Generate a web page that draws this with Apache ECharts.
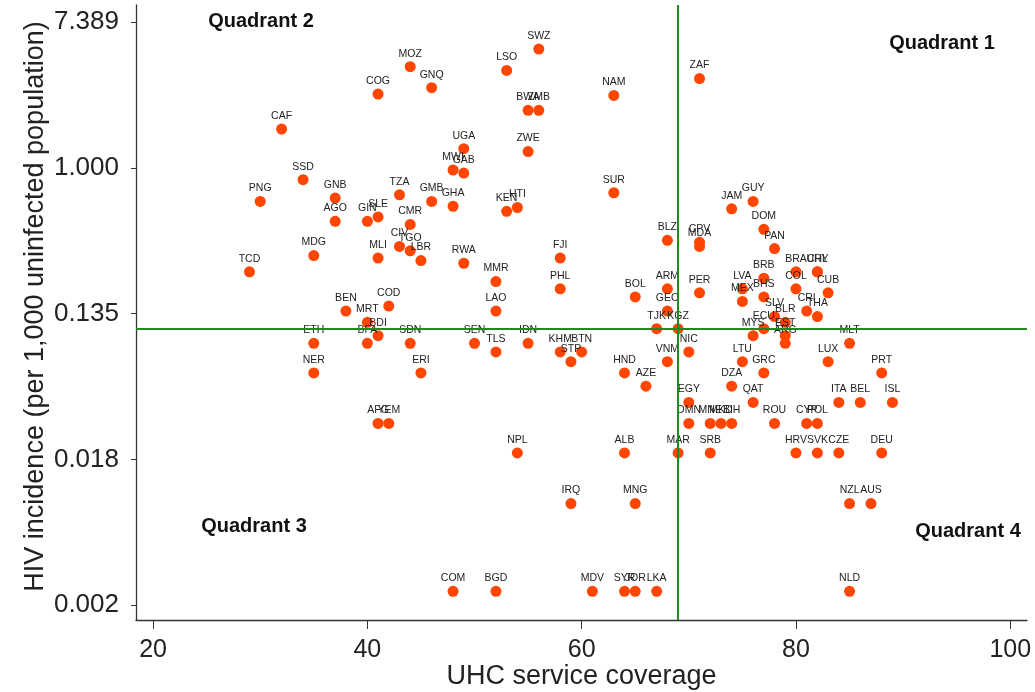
<!DOCTYPE html>
<html><head><meta charset="utf-8">
<script src="https://cdn.jsdelivr.net/npm/echarts@6/dist/echarts.min.js"></script>
<style>html,body{margin:0;padding:0;background:#fff}#c{width:1035px;height:692px}</style>
</head><body><div id="c"></div>
<script>
// ---- data ----
const countries = ['MOZ','COG','GNQ','CAF','SSD','PNG','GNB','TZA','GMB','AGO','GIN','SLE','CMR','MDG','MLI','CIV','TGO','LBR','TCD','COD','BEN','MRT','BDI','ETH','BFA','SDN','NER','ERI','AFG','YEM',
'SWZ','LSO','NAM','BWA','ZMB','ZAF','UGA','ZWE','MWI','GAB','GHA','KEN','HTI','SUR','JAM','GUY','BLZ','CPV','MDA','RWA','FJI','MMR','PHL','BOL','ARM','PER','LAO','GEO','TJK','KGZ',
'SEN','TLS','IDN','KHM','BTN','STP','NIC','VNM','HND','AZE','EGY','DZA','DOM','PAN','BRA','CHL','URY','BRB','LVA','MEX','BHS','COL','CUB','SLV','BLR','CRI','THA','ECU','MYS','EST','ARG','MLT',
'LTU','GRC','LUX','PRT','QAT','ITA','BEL','ISL','OMN','MNE','MKD','BIH','ROU','CYP','POL','NPL','ALB','MAR','SRB','HRV','SVK','CZE','DEU','IRQ','MNG','NZL','AUS','COM','BGD','MDV','SYR','JOR','LKA','NLD'];
const uhcCoverage = [44,41,46,32,34,30,37,43,46,37,40,41,44,35,41,43,44,45,29,42,38,40,41,35,40,44,35,45,41,42,
56,53,63,55,56,71,49,55,48,49,48,53,54,63,74,76,68,71,71,49,58,52,58,65,68,71,52,68,67,69,
50,52,55,58,60,59,70,68,64,66,70,74,77,78,80,82,82,77,75,75,77,80,83,78,79,81,82,77,76,79,79,85,
75,77,83,88,76,84,86,89,70,72,73,74,78,81,82,54,64,69,72,80,82,84,88,59,65,85,87,48,52,61,64,65,67,85];
const hivIncidence = [4.0,2.75,3.0,1.7,0.85,0.63,0.66,0.69,0.63,0.48,0.48,0.51,0.46,0.30,0.29,0.34,0.32,0.28,0.24,0.15,0.14,0.12,0.10,0.09,0.09,0.09,0.06,0.06,0.03,0.03,
5.1,3.8,2.7,2.2,2.2,3.4,1.3,1.25,0.97,0.93,0.59,0.55,0.58,0.71,0.57,0.63,0.37,0.36,0.34,0.27,0.29,0.21,0.19,0.17,0.19,0.18,0.14,0.14,0.11,0.11,
0.09,0.08,0.09,0.08,0.08,0.07,0.08,0.07,0.06,0.05,0.04,0.05,0.43,0.33,0.24,0.24,0.24,0.22,0.19,0.16,0.17,0.19,0.18,0.13,0.12,0.14,0.13,0.11,0.10,0.10,0.09,0.09,
0.07,0.06,0.07,0.06,0.04,0.04,0.04,0.04,0.03,0.03,0.03,0.03,0.03,0.03,0.03,0.02,0.02,0.02,0.02,0.02,0.02,0.02,0.02,0.01,0.01,0.01,0.01,0.003,0.003,0.003,0.003,0.003,0.003,0.003];
const xTicks = [20,40,60,80,100];
const yTickLn = [-6,-4,-2,0,2];          // natural-log tick positions (labels exp(k))
const refUHC = 69;                        // vertical reference line
const refIncidence = 0.11;                // horizontal reference line
const quadrantNames = ['Quadrant 1','Quadrant 2','Quadrant 3','Quadrant 4'];

// ---- chart ----
const chart = echarts.init(document.getElementById('c'), null, {renderer:'canvas'});
const FONT = '"Liberation Sans", Arial, Helvetica, sans-serif';
const points = countries.map((c,i)=>({name:c, value:[uhcCoverage[i], Math.log(hivIncidence[i])]}));
const qStyle = {font:'bold 20px ' + FONT, fill:'#111', textAlign:'center', textVerticalAlign:'middle'};
const qPos = [[942,43],[261,21],[254,526],[968,531]];

chart.setOption({
  animation:false,
  backgroundColor:'#fff',
  grid:{left:136, right:8, top:5, bottom:72, outerBoundsMode:'none', containLabel:false},
  xAxis:{
    type:'value', min:18.41, max:101.56,
    name:'UHC service coverage', nameLocation:'middle', nameGap:43, nameMoveOverlap:false,
    nameTextStyle:{fontSize:27, color:'#222', fontFamily:FONT, lineHeight:27},
    axisLine:{show:true, onZero:false, lineStyle:{color:'#333', width:1.3}},
    axisTick:{show:true, length:9, customValues:xTicks, lineStyle:{color:'#333'}},
    axisLabel:{customValues:xTicks, fontSize:25, color:'#222', margin:18, fontFamily:FONT},
    splitLine:{show:false}
  },
  yAxis:{
    type:'value', min:-6.203, max:2.233,
    name:'HIV incidence (per 1,000 uninfected population)', nameLocation:'middle', nameGap:87, nameMoveOverlap:false,
    nameTextStyle:{fontSize:27, color:'#222', fontFamily:FONT, lineHeight:27, padding:[0,0,0,12]},
    axisLine:{show:true, onZero:false, lineStyle:{color:'#333', width:1.3}},
    axisTick:{show:true, length:5, customValues:yTickLn, lineStyle:{color:'#333'}},
    axisLabel:{customValues:yTickLn, fontSize:26, color:'#222', margin:17, fontFamily:FONT,
      formatter:v=>Math.exp(v).toFixed(3)},
    splitLine:{show:false}
  },
  series:[
    {type:'line', data:[], z:1, silent:true,
     markLine:{symbol:'none', silent:true, label:{show:false},
       lineStyle:{color:'#1f8a1f', width:2, type:'solid'},
       data:[{xAxis:refUHC},{yAxis:Math.log(refIncidence)}]}},
    {type:'scatter', z:3, symbolSize:11, data:points,
     itemStyle:{color:'#FF4500', opacity:1},
     label:{show:true, position:'top', distance:2, formatter:'{b}', fontSize:10.5, color:'#222', fontFamily:FONT}}
  ],
  graphic: quadrantNames.map((t,i)=>({type:'text', x:qPos[i][0], y:qPos[i][1], z:10, style:Object.assign({text:t}, qStyle)}))
});
</script></body></html>
